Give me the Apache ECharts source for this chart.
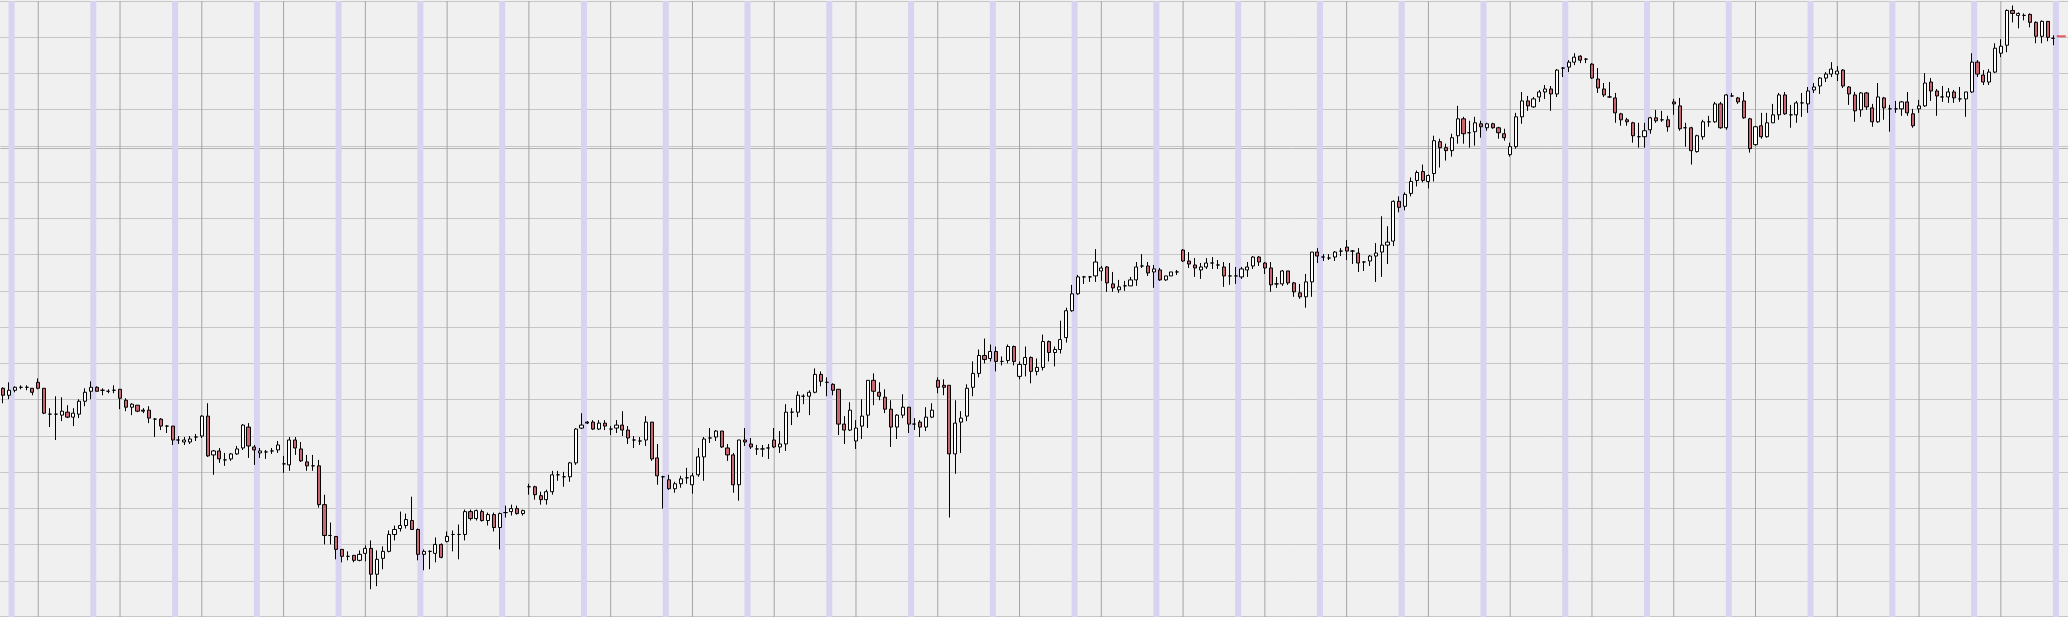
<!DOCTYPE html>
<html><head><meta charset="utf-8">
<script src="https://cdn.jsdelivr.net/npm/echarts@6/dist/echarts.min.js"></script>
<style>html,body{margin:0;padding:0;background:#f0f0f0;overflow:hidden}#c{width:2068px;height:617px}</style>
</head><body><div id="c"></div>
<script>
// [open, close, low, high] per bar (price units of the chart)
const ohlc = [
[230,223,215,231],[223,228,219,236],[228,231,226,232],[231,231,229,233],[231,231,228,233],
[230,226,223,230],[236,230,229,240],[230,205,204,230],[204,204,191,210],[204,204,178,222],
[203,207,197,221],[206,201,200,213],[201,205,192,210],[204,217,200,219],[217,226,212,230],
[227,231,219,237],[231,227,227,232],[228,228,223,230],[227,227,225,229],[228,228,225,233],
[229,220,209,229],[218,211,207,220],[211,214,203,215],[213,207,206,213],[208,207,205,210],
[208,200,195,212],[199,199,181,200],[199,192,188,200],[192,192,185,193],[192,178,173,192],
[178,178,174,182],[176,178,173,181],[176,179,174,182],[181,181,177,184],[182,202,180,203],
[202,162,161,215],[163,167,143,168],[167,159,155,170],[158,158,152,165],[159,164,157,165],
[164,169,163,172],[170,193,168,194],[191,172,160,195],[171,168,153,173],[165,167,160,170],
[166,166,159,168],[167,167,164,170],[168,173,165,177],[154,154,145,162],[153,178,147,181],
[178,170,163,181],[169,157,156,176],[156,152,147,163],[152,152,147,163],[152,113,110,158],
[113,82,73,123],[82,82,73,95],[81,68,58,81],[68,61,55,68],[61,61,57,66],
[62,57,55,62],[57,63,56,67],[64,69,56,72],[69,43,28,77],[43,58,31,67],
[59,66,48,71],[66,83,65,87],[83,88,77,92],[89,92,86,106],[92,98,89,104],
[97,88,88,121],[88,63,57,89],[63,66,47,68],[66,66,48,67],[64,73,55,80],
[73,60,59,74],[76,81,75,86],[83,83,66,87],[83,83,58,93],[83,106,77,108],
[106,99,97,108],[99,107,97,108],[106,97,96,108],[97,103,92,105],[103,90,86,105],
[90,104,68,105],[105,105,100,112],[106,109,102,113],[109,104,103,112],[104,107,102,108],
[131,131,123,134],[131,123,118,132],[122,118,113,126],[118,126,113,128],[126,143,123,147],
[143,143,137,147],[141,141,131,146],[141,155,136,156],[155,189,153,190],[190,193,189,205],
[196,195,194,197],[196,189,188,198],[189,195,188,198],[195,192,188,198],[189,189,183,192],
[190,193,185,198],[193,188,182,207],[188,180,174,192],[178,178,170,182],[177,177,173,181],
[178,196,172,202],[196,159,157,196],[160,142,133,174],[141,141,109,142],[138,129,128,143],
[129,134,125,136],[134,139,130,142],[140,140,134,150],[133,142,124,145],[143,161,141,170],
[161,179,137,181],[180,180,175,190],[181,187,177,188],[187,171,170,187],[170,163,157,174],
[163,133,125,165],[133,178,117,178],[178,176,172,190],[174,171,169,180],[169,169,163,173],
[169,169,161,173],[170,170,159,174],[178,171,170,190],[171,174,165,187],[174,206,167,214],
[206,206,193,210],[206,223,201,227],[222,222,214,224],[222,226,203,228],[226,244,225,250],
[244,237,232,247],[236,236,222,241],[234,228,223,235],[229,194,183,229],[194,188,174,202],
[188,208,187,216],[177,190,169,198],[192,202,179,219],[203,238,190,238],[238,227,213,245],
[226,222,218,236],[221,209,205,229],[209,191,171,218],[191,203,179,204],[203,211,200,224],
[211,194,185,211],[194,194,188,200],[196,191,181,198],[191,201,187,211],[201,208,200,215],
[238,231,225,241],[233,231,223,239],[233,164,100,233],[164,195,144,218],[196,200,165,207],
[202,230,197,234],[231,245,222,257],[245,263,241,269],[263,259,255,280],[260,267,257,274],
[267,257,247,272],[257,257,253,262],[258,272,255,274],[272,257,253,273],[242,254,239,257],
[254,261,242,272],[261,247,235,262],[247,251,243,260],[251,277,248,284],[277,266,257,278],
[266,269,252,272],[269,279,265,298],[281,308,276,311],[308,325,307,334],[325,342,324,344],
[342,342,335,343],[342,342,337,343],[343,357,337,370],[348,351,338,353],[352,336,327,353],
[335,331,327,347],[329,332,326,339],[333,333,328,338],[333,339,333,342],[339,352,333,357],
[353,353,351,365],[353,346,343,357],[347,350,331,354],[349,339,338,351],[339,343,338,343],
[343,347,343,347],[347,347,344,349],[369,358,357,370],[358,355,351,367],[354,351,342,361],
[349,352,340,356],[352,356,350,361],[356,356,350,362],[354,354,350,359],[352,343,332,357],
[343,343,334,356],[343,343,335,352],[342,350,340,352],[349,352,342,357],[353,362,350,363],
[362,357,353,363],[356,351,345,357],[351,334,327,357],[335,335,331,342],[335,348,333,349],
[348,336,334,348],[336,327,322,337],[326,322,320,335],[322,337,311,345],[337,367,322,367],
[367,363,356,371],[362,362,358,365],[361,361,359,365],[362,367,358,368],[368,368,363,371],
[372,368,359,379],[368,368,355,369],[366,356,347,371],[357,357,348,358],[358,363,353,364],
[363,366,337,376],[367,374,342,403],[374,377,355,393],[378,418,373,419],[418,412,407,423],
[413,425,409,427],[426,438,423,442],[439,447,433,449],[448,439,437,455],[438,444,431,445],
[446,479,438,484],[478,472,452,481],[472,469,459,476],[469,482,463,486],[484,501,476,514],
[501,486,476,503],[487,487,472,499],[488,497,474,503],[496,493,482,499],[492,496,489,497],
[496,492,491,497],[492,487,481,493],[486,482,479,491],[465,473,463,477],[473,503,471,507],
[503,519,496,528],[519,514,509,524],[513,521,512,523],[523,528,518,530],[528,531,521,535],
[531,526,509,534],[526,550,523,551],[552,552,543,553],[553,558,548,560],[558,563,555,567],
[564,560,557,565],[561,561,557,562],[556,542,541,557],[541,532,527,552],[531,525,523,537],
[523,523,522,538],[522,507,497,527],[506,500,494,507],[500,498,494,502],[497,484,477,498],
[483,483,472,497],[483,489,472,497],[490,502,486,503],[502,499,497,510],[500,500,498,509],
[500,493,488,504],[518,516,505,521],[514,491,489,522],[492,492,473,497],[492,469,455,493],
[468,484,467,485],[483,498,480,500],[498,498,493,504],[498,516,497,518],[516,492,491,518],
[492,525,490,526],[524,524,523,527],[522,518,516,523],[519,502,501,528],[501,471,467,502],
[475,493,474,494],[494,483,481,507],[483,497,482,507],[497,505,497,516],[505,525,500,527],
[525,506,505,528],[505,505,492,515],[505,517,497,519],[517,517,503,527],[516,529,507,533],
[530,533,527,537],[534,542,526,543],[542,546,538,548],[546,551,543,558],[546,549,539,554],
[550,534,532,551],[533,526,515,534],[525,509,498,528],[510,527,503,528],[527,513,510,528],
[512,498,493,516],[498,523,497,537],[522,512,500,523],[511,511,488,515],[511,511,507,519],
[511,518,504,519],[518,507,504,528],[506,494,492,511],[511,514,507,520],[514,537,513,547],
[538,529,519,542],[529,524,504,531],[523,523,518,534],[523,528,517,532],[528,522,517,530],
[521,521,518,533],[521,528,503,528],[528,558,527,567],[558,546,543,560],[545,538,535,550],
[538,548,535,551],[548,572,547,577],[567,574,563,581],[575,610,568,611],[610,607,598,615],
[605,607,592,608],[605,605,600,607],[606,598,593,607],[598,584,577,599],[584,599,577,600],
[599,583,579,599],[582,582,575,585]
];
// session markers (highlighted bars) and period grid lines, by bar index
const bandIdx = [1,15,29,43,57,71,85,99,113,127,141,155,169,183,197,211,225,239,253,267,281,295,309,323,337,351];
const gridIdx = [6,20,34,48,62,76,90,104,118,132,146,160,174,188,202,216,230,244,258,272,286,300,314,328,342];
const refLevel = 471;      // extra horizontal reference level
const lastPrice = 584;     // red last-price tick at right
const yStep = 36.44;
const yMax = yStep * 17;
const slotCount = 354;
const categories = Array.from({length: slotCount}, (_, i) => 'b' + i);

const bandData = categories.map((_, i) => bandIdx.includes(i) ? yMax : '-');
const vlineData = categories.map((_, i) => gridIdx.includes(i) ? yMax : '-');

const chart = echarts.init(document.getElementById('c'), null, {renderer: 'canvas'});
chart.setOption({
  animation: false,
  backgroundColor: '#f0f0f0',
  grid: {left: 0.28, top: 1, width: 2070.2, height: 619.5, containLabel: false, show: false},
  xAxis: {
    type: 'category', data: categories, boundaryGap: true,
    axisLine: {show: false}, axisTick: {show: false}, axisLabel: {show: false}, splitLine: {show: false}
  },
  yAxis: {
    type: 'value', min: 0, max: yMax, interval: yStep, scale: false,
    axisLine: {show: false}, axisTick: {show: false}, axisLabel: {show: false},
    splitLine: {show: true, lineStyle: {color: '#c6c6c6', width: 1}}
  },
  graphic: [{
    type: 'line', shape: {x1: 0, y1: 616.5, x2: 2068, y2: 616.5},
    style: {stroke: '#c6c6c6', lineWidth: 1}, silent: true, z: 0
  }],
  series: [
    {
      type: 'bar', data: bandData, barWidth: 6, barGap: '-100%', z: 1, silent: true,
      itemStyle: {color: '#d7d3f1'}
    },
    {
      type: 'bar', data: vlineData, barWidth: 1, barGap: '-100%', z: 1, silent: true,
      itemStyle: {color: '#a4a4a4'},
      markLine: {
        silent: true, symbol: 'none', z: 1, label: {show: false},
        lineStyle: {color: '#b4b4b4', width: 1, type: 'solid'},
        data: [{yAxis: refLevel}]
      }
    },
    {
      type: 'candlestick', data: ohlc, barWidth: 3.6, z: 3,
      itemStyle: {
        color: '#ffffff', color0: '#c9666f',
        borderColor: '#000000', borderColor0: '#000000', borderColorDoji: '#000000',
        borderWidth: 1
      }
    },
    {
      type: 'scatter', z: 4, silent: true,
      data: [[ohlc.length, lastPrice]],
      symbol: 'rect', symbolSize: [9, 2], symbolOffset: [2, 0],
      itemStyle: {color: '#e53535'}
    }
  ]
});
</script>
</body></html>
